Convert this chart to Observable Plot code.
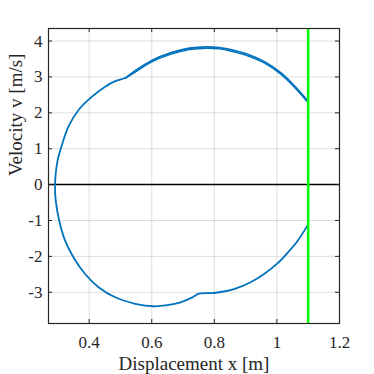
<!DOCTYPE html>
<html>
<head>
<meta charset="utf-8">
<script src="https://cdn.jsdelivr.net/npm/d3@7"></script>
<script src="https://cdn.jsdelivr.net/npm/@observablehq/plot@0.6"></script>
<style>
  html, body { margin: 0; padding: 0; background: #fff; }
  #chart { width: 374px; height: 374px; }
  #chart svg, #chart svg text, #chart svg g { font-family: "Liberation Serif", serif !important; }
</style>
</head>
<body>
<div id="chart"></div>
<script>
// Phase trajectory (displacement x [m], velocity v [m/s])
const loopX = [1.097, 1.055, 1.013, 0.959, 0.906, 0.852, 0.815, 0.775, 0.720, 0.660, 0.600, 0.545, 0.515, 0.485, 0.451, 0.409, 0.366, 0.334, 0.312, 0.299, 0.292, 0.291, 0.294, 0.304, 0.323, 0.350, 0.387, 0.430, 0.483, 0.547, 0.607, 0.650, 0.692, 0.728, 0.751, 0.799, 0.863, 0.916, 0.959, 1.000, 1.034, 1.066, 1.097];
const loopV = [2.35, 2.76, 3.11, 3.43, 3.63, 3.76, 3.82, 3.84, 3.80, 3.67, 3.46, 3.16, 2.97, 2.89, 2.73, 2.45, 2.08, 1.62, 1.08, 0.67, 0.20, -0.20, -0.50, -1.00, -1.56, -2.03, -2.49, -2.86, -3.14, -3.32, -3.39, -3.36, -3.28, -3.15, -3.04, -3.02, -2.91, -2.72, -2.49, -2.21, -1.90, -1.57, -1.15];
// second pass over the upper branch (slightly offset)
const pass2X = [1.097, 1.055, 1.013, 0.959, 0.906, 0.852, 0.815, 0.775, 0.720, 0.660, 0.600, 0.545, 0.515];
const pass2V = [2.31, 2.72, 3.07, 3.39, 3.59, 3.72, 3.78, 3.80, 3.76, 3.63, 3.42, 3.12, 2.96];

const xTicks = [0.4, 0.6, 0.8, 1, 1.2];
const yTicks = [-3, -2, -1, 0, 1, 2, 3, 4];
const xDomain = [0.27, 1.2];
const yDomain = [-3.87, 4.35];
const wallX = [1.1];
const zeroV = [0];
const xLabel = "Displacement x [m]";
const yLabel = "Velocity v [m/s]";

const loop = loopX.map((x, i) => ({x, v: loopV[i]}));
const pass2 = pass2X.map((x, i) => ({x, v: pass2V[i]}));

const W = 374, H = 374;
const mL = 48, mR = 35, mT = 28, mB = 51;
const pw = W - mL - mR, ph = H - mT - mB;
const axisColor = "#262626";
const tickLen = 4;
const serif = "Liberation Serif";

const chart = Plot.plot({
  width: W,
  height: H,
  marginLeft: mL,
  marginRight: mR,
  marginTop: mT,
  marginBottom: mB,
  style: {color: axisColor, background: "#fff", fontFamily: serif},
  x: {domain: xDomain, axis: null},
  y: {domain: yDomain, axis: null},
  marks: [
    Plot.gridX(xTicks, {stroke: "#000", strokeOpacity: 0.13, strokeWidth: 1}),
    Plot.gridY(yTicks, {stroke: "#000", strokeOpacity: 0.13, strokeWidth: 1}),
    Plot.ruleY(zeroV, {stroke: "#000", strokeWidth: 1.5}),
    Plot.line(pass2, {x: "x", y: "v", stroke: "#0072BD", strokeWidth: 1.3, curve: "catmull-rom"}),
    Plot.line(loop, {x: "x", y: "v", stroke: "#0072BD", strokeWidth: 1.8, curve: "catmull-rom"}),
    Plot.ruleX(wallX, {stroke: "#00ff00", strokeWidth: 2.5}),
    // inward ticks on all four sides
    Plot.tickX(xTicks, {x: d => d, insetTop: ph - tickLen, stroke: axisColor}),
    Plot.tickX(xTicks, {x: d => d, insetBottom: ph - tickLen, stroke: axisColor}),
    Plot.tickY(yTicks, {y: d => d, insetRight: pw - tickLen, stroke: axisColor}),
    Plot.tickY(yTicks, {y: d => d, insetLeft: pw - tickLen, stroke: axisColor}),
    Plot.frame({stroke: axisColor, strokeWidth: 1.2}),
    Plot.axisX(xTicks, {tickSize: 0, tickPadding: 12, fontSize: 17, fontFamily: serif, tickFormat: d => String(d), label: null}),
    Plot.axisY(yTicks, {tickSize: 0, tickPadding: 6, fontSize: 17, fontFamily: serif, tickFormat: d => String(d), label: null}),
    Plot.text([xLabel], {frameAnchor: "bottom", dy: 40, fontSize: 19, fontFamily: serif, text: d => d, lineAnchor: "middle"}),
    Plot.text([yLabel], {frameAnchor: "left", dx: -33, rotate: -90, fontSize: 19, fontFamily: serif, text: d => d, lineAnchor: "middle"})
  ]
});
document.getElementById("chart").appendChild(chart);
</script>
</body>
</html>
